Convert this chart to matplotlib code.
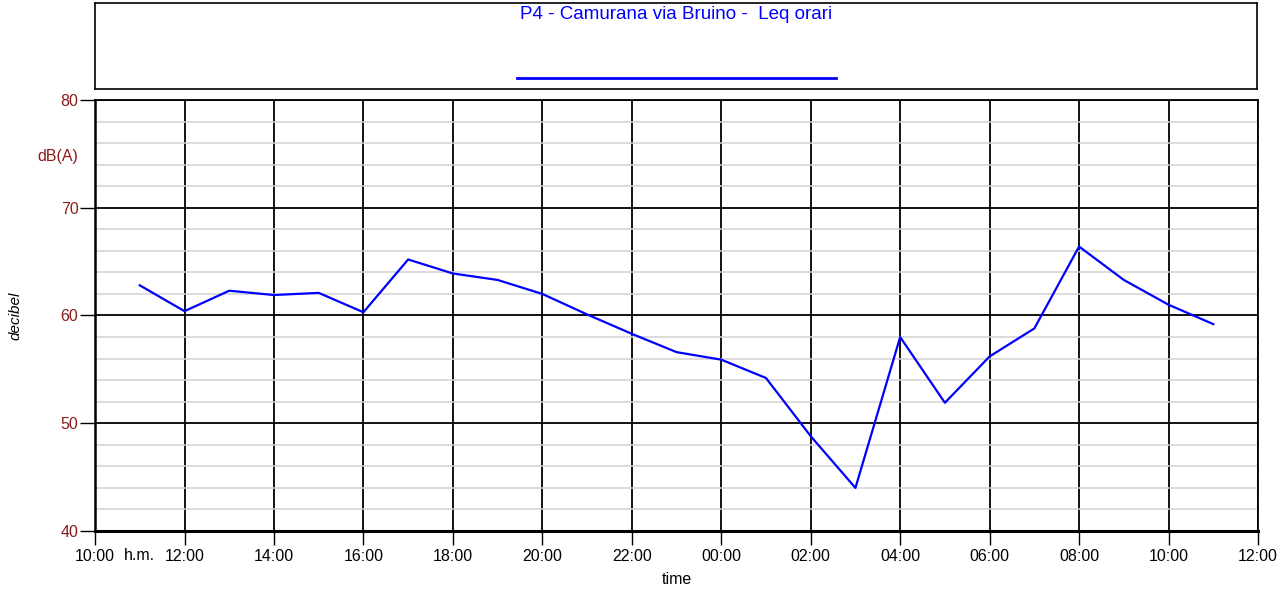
import matplotlib.pyplot as plt
import numpy as np
from matplotlib.ticker import MultipleLocator, FuncFormatter

plt.rcParams['font.family'] = ['Liberation Sans', 'DejaVu Sans']

# hourly Leq, hours counted from midnight of the first day (11:00 -> 11:00 next day)
hours = list(range(11, 36))
leq = [62.8, 60.4, 62.3, 61.9, 62.1, 60.3, 65.2, 63.9, 63.3, 62.0,
       60.1, 58.3, 56.6, 55.9, 54.2, 48.8, 44.0, 58.0, 51.9, 56.2,
       58.8, 66.4, 63.3, 61.0, 59.2]
title = "P4 - Camurana via Bruino -  Leq orari"

red = "#8b1a1a"

fig = plt.figure(figsize=(12.88, 5.89), dpi=100)
ax = fig.add_axes([0.0738, 0.0985, 0.9029, 0.7317])

ax.plot(hours, leq, color="#0000ff", linewidth=1.6, zorder=5)

ax.set_xlim(10, 36)
ax.set_ylim(40, 80)
ax.xaxis.set_major_locator(MultipleLocator(2))
ax.xaxis.set_major_formatter(FuncFormatter(lambda v, p: "%02d:00" % (int(v) % 24)))
ax.yaxis.set_major_locator(MultipleLocator(10))
ax.yaxis.set_minor_locator(MultipleLocator(2))

ax.grid(which="minor", axis="y", color="#d2d2d2", linewidth=1.1)
ax.grid(which="major", axis="y", color="black", linewidth=1.3)
ax.grid(which="major", axis="x", color="black", linewidth=1.3)
ax.set_axisbelow(True)

ax.tick_params(axis="x", which="major", length=10, width=1, colors="black",
               labelsize=11.5, pad=3)
ax.tick_params(axis="y", which="major", length=11, width=1, colors="black",
               labelcolor=red, labelsize=11.5, pad=1)
ax.tick_params(axis="y", which="minor", length=0)
for s in ax.spines.values():
    s.set_linewidth(1.3)
    s.set_color("black")
ax.spines["left"].set_linewidth(1.8)
ax.spines["bottom"].set_linewidth(2.2)

ax.set_xlabel("time", fontsize=11.5, labelpad=6)
ax.set_ylabel("decibel", fontsize=11, style="italic")
ax.yaxis.set_label_coords(-0.062, 0.5)

ax.text(-0.032, 0.87, "dB(A)", transform=ax.transAxes, color=red,
        fontsize=11.5, ha="center", va="center")
ax.text(11, -0.057, "h.m.", transform=ax.get_xaxis_transform(),
        fontsize=11.5, ha="center", va="center")

# legend box above the plot
lg = fig.add_axes([0.0738, 0.849, 0.9021, 0.1459])
lg.set_xticks([])
lg.set_yticks([])
lg.set_xlim(0, 1)
lg.set_ylim(0, 1)
for s in lg.spines.values():
    s.set_linewidth(1.2)
lg.text(0.5, 0.87, title, color="#0000ff", fontsize=13.5, ha="center", va="center")
lg.plot([0.363, 0.638], [0.13, 0.13], color="#0000ff", linewidth=2)

fig.savefig("out.png", dpi=100)
